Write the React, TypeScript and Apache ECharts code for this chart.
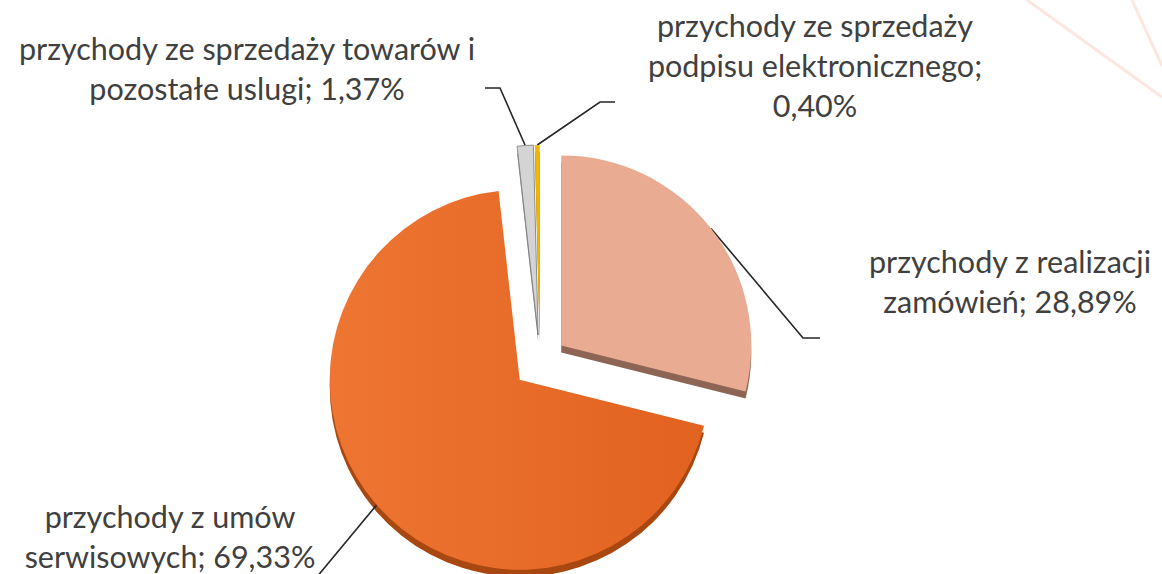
import React, { useEffect, useRef } from "react";
import * as echarts from "echarts";

// ---- data ----
const categories = [
  "przychody z realizacji zamówień",
  "przychody z umów serwisowych",
  "przychody ze sprzedaży towarów i pozostałe uslugi",
  "przychody ze sprzedaży podpisu elektronicznego",
];
const labelNames = [
  "przychody z realizacji\nzamówień",
  "przychody z umów\nserwisowych",
  "przychody ze sprzedaży towarów i\npozostałe uslugi",
  "przychody ze sprzedaży\npodpisu elektronicznego",
];
const labelSeparators = ["; ", "; ", "; ", ";\n"];
const values = [28.89, 69.33, 1.37, 0.4];

// ---- styles / layout ----
const topColors: any[] = [
  "#E9AB92",
  {
    type: "linear", x: 0, y: 0, x2: 1, y2: 0,
    colorStops: [
      { offset: 0, color: "#EE7532" },
      { offset: 1, color: "#E26220" },
    ],
  },
  "#D4D4D4",
  "#F2B500",
];
const sideColors = ["#8E6455", "#A8470F", "#8C8C8C", "#A07800"];
const labelCenters = [
  [1010, 281],
  [170, 536],
  [247, 68],
  [815, 65],
];
const lineBends = [
  [803, 338],
  [316, 578],
  [500, 88],
  [600, 102],
];
const lineEnds = [
  [820, 338],
  [300, 578],
  [485, 88],
  [615, 102],
];

const CX = 540;
const CY = 362;
const R = 190;
const OFFSET = 27;
const DEPTH = 7;

export default function App() {
  const ref = useRef<HTMLDivElement>(null);
  useEffect(() => {
    if (!ref.current) return;
    const chart = echarts.init(ref.current, undefined, { renderer: "svg" });
    const fmt = (i: number) =>
      labelNames[i] + labelSeparators[i] + values[i].toFixed(2).replace(".", ",") + "%";

    // explode each slice along its mid-angle (clockwise from 12 o'clock)
    const total = values.reduce((a, b) => a + b, 0);
    let cum = 0;
    const mids = values.map((v) => {
      const m = ((cum + v / 2) / total) * Math.PI * 2;
      cum += v;
      return m;
    });
    const centerOf = (i: number, dy: number) => [
      CX + OFFSET * Math.sin(mids[i]),
      CY - OFFSET * Math.cos(mids[i]) + dy,
    ];

    const baseSeries = {
      type: "pie",
      silent: true,
      radius: R,
      startAngle: 90,
      clockwise: true,
      avoidLabelOverlap: false,
      emphasis: { disabled: true },
    };

    const series: any[] = [];
    // side (depth) layer
    categories.forEach((_, i) => {
      series.push({
        ...baseSeries,
        z: 1,
        center: centerOf(i, DEPTH),
        label: { show: false },
        labelLine: { show: false },
        data: categories.map((name, j) => ({
          name,
          value: values[j],
          itemStyle: { color: j === i ? sideColors[j] : "transparent", borderWidth: 0 },
        })),
      });
    });
    // top layer with labels
    categories.forEach((_, i) => {
      series.push({
        ...baseSeries,
        z: 2,
        center: centerOf(i, 0),
        label: {
          show: false,
          position: "outside",
          formatter: (p: any) => fmt(p.dataIndex),
          fontFamily: "Lato",
          fontSize: 30.5,
          lineHeight: 40,
          color: "#404040",
          align: "center",
        },
        labelLine: {
          show: false,
          length: 20,
          length2: 20,
          lineStyle: { color: "#262626", width: 1.6 },
        },
        labelLayout: (params: any) => {
          const k = params.dataIndex;
          const pts = params.labelLinePoints || [[0, 0]];
          const start = [pts[0][0], pts[0][1]];
          return {
            x: labelCenters[k][0],
            y: labelCenters[k][1],
            align: "center",
            verticalAlign: "middle",
            labelLinePoints: [start, lineBends[k], lineEnds[k]],
          };
        },
        data: categories.map((name, j) => ({
          name,
          value: values[j],
          itemStyle:
            j === i
              ? {
                  color: topColors[j],
                  borderColor: j === 2 ? "#7a7a7a" : undefined,
                  borderWidth: j === 2 ? 0.8 : 0,
                }
              : { color: "transparent", borderWidth: 0 },
          label: { show: j === i },
          labelLine: { show: j === i },
        })),
      });
    });

    chart.setOption({
      animation: false,
      backgroundColor: "#ffffff",
      graphic: [
        {
          type: "line",
          shape: { x1: 1027, y1: 0, x2: 1162, y2: 97 },
          style: { stroke: "#FCE6E0", lineWidth: 3 },
          silent: true,
        },
        {
          type: "line",
          shape: { x1: 1132, y1: 0, x2: 1162, y2: 66 },
          style: { stroke: "#FCE6E0", lineWidth: 3 },
          silent: true,
        },
      ],
      series,
    });
    return () => chart.dispose();
  }, []);
  return (
    <div
      ref={ref}
      style={{ position: "fixed", left: 0, top: 0, width: 1162, height: 574 }}
    />
  );
}
